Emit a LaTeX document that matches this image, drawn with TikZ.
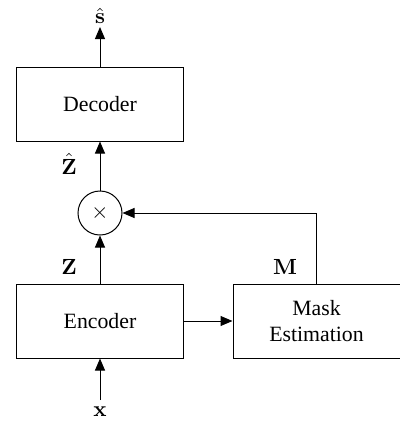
\documentclass[tikz,border=0pt]{standalone}
\usepackage[no-math]{fontspec}
\setmainfont{Liberation Serif}
\usetikzlibrary{arrows.meta}
\begin{document}
\begin{tikzpicture}[x=0.5pt,y=-0.5pt, font=\fontsize{10.9}{13}\selectfont,
 blk/.style={draw, line width=0.5pt, minimum width=83.5pt, minimum height=37pt, inner sep=0pt, align=center},
 conn/.style={line width=0.5pt, -{Triangle[length=6pt,width=5pt]}},
 lbl/.style={inner sep=0pt}]
\useasboundingbox (0,0) rectangle (400,424);
\node[blk] (dec) at (100,104) {Decoder};
\node[blk] (enc) at (100,321) {Encoder};
\node[blk] (mask) at (316.5,321) {Mask\\Estimation};
\node[draw, circle, minimum size=22pt, inner sep=0pt, line width=0.5pt] (mul) at (100,213) {$\times$};
\node[lbl] (s) at (100,16) {$\hat{\mathbf{s}}$};
\node[lbl] (x) at (100,412) {$\mathbf{x}$};
\node[lbl] (zh) at (69,164) {$\hat{\mathbf{Z}}$};
\node[lbl] (z) at (69,267) {$\mathbf{Z}$};
\node[lbl] (m) at (285,267) {$\mathbf{M}$};
\coordinate (stop) at (100,27);
\coordinate (xin) at (100,400);
\draw[conn] (dec.north) -- (stop);
\draw[conn] (mul.north) -- (dec.south);
\draw[conn] (enc.north) -- (mul.south);
\draw[conn] (xin) -- (enc.south);
\draw[conn] (enc.east) -- (mask.west);
\draw[conn] (mask.north) |- (mul.east);
\end{tikzpicture}
\end{document}
